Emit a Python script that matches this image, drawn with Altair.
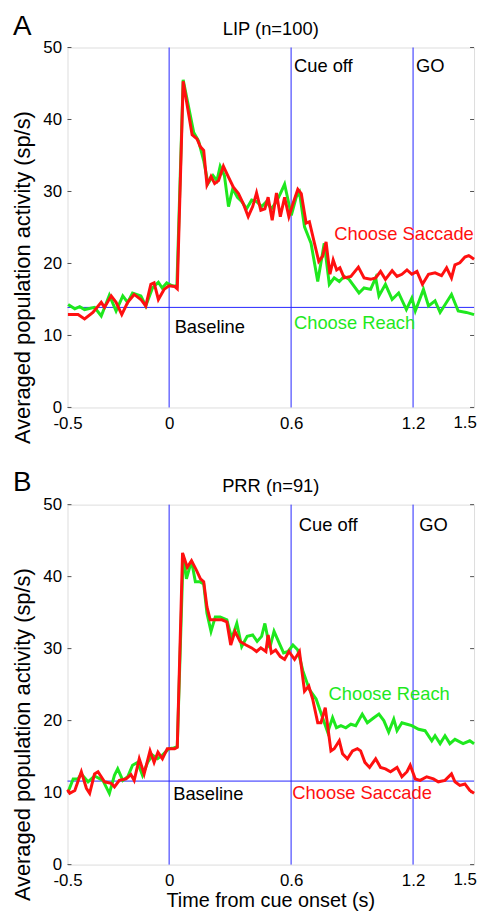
import altair as alt
import pandas as pd

# ---------------- data ----------------
X_TICKS = [-0.5, 0, 0.6, 1.2]
X_EDGE_TICK = [1.5]
Y_TICKS = [0, 10, 20, 30, 40, 50]
EVENT_TIMES = [0.0, 0.6, 1.2]

LIP_BASELINE = 13.9
PRR_BASELINE = 11.6

# (time s, rate sp/s)
lip_reach = [
    (-0.497, 14.3), (-0.464, 13.7), (-0.440, 14.0), (-0.416, 13.6), (-0.367, 13.9),
    (-0.334, 12.7), (-0.294, 15.6), (-0.261, 13.4), (-0.228, 15.5), (-0.204, 14.6),
    (-0.180, 15.9), (-0.139, 15.5), (-0.115, 14.1), (-0.082, 16.6), (-0.053, 17.4),
    (-0.034, 16.6), (-0.012, 17.3), (0.015, 16.9), (0.038, 16.8), (0.069, 45.5),
    (0.121, 38.2), (0.145, 37.0), (0.170, 34.3), (0.191, 31.1), (0.216, 32.2),
    (0.235, 31.5), (0.251, 33.5), (0.272, 32.2), (0.292, 27.9), (0.313, 30.4),
    (0.336, 29.2), (0.357, 28.6), (0.381, 27.6), (0.406, 28.8), (0.430, 28.6),
    (0.455, 27.9), (0.479, 28.6), (0.503, 27.6), (0.528, 28.6), (0.547, 29.7),
    (0.568, 31.0), (0.589, 28.3), (0.601, 26.7), (0.625, 29.2), (0.641, 29.9),
    (0.666, 25.1), (0.698, 22.8), (0.731, 17.5), (0.763, 22.8), (0.788, 17.1),
    (0.812, 18.0), (0.837, 17.5), (0.861, 18.2), (0.885, 17.8), (0.934, 15.9),
    (0.959, 16.6), (0.991, 16.4), (1.016, 18.0), (1.032, 15.5), (1.064, 17.1),
    (1.097, 15.0), (1.129, 15.9), (1.167, 13.6), (1.194, 15.2), (1.211, 13.4),
    (1.251, 16.4), (1.276, 14.1), (1.308, 14.8), (1.333, 13.2), (1.389, 15.7),
    (1.422, 13.4), (1.462, 13.2), (1.500, 12.9),
]
lip_saccade = [
    (-0.498, 12.9), (-0.448, 12.9), (-0.416, 12.3), (-0.375, 13.2), (-0.334, 14.6),
    (-0.318, 13.9), (-0.285, 15.5), (-0.261, 14.6), (-0.233, 12.9), (-0.204, 14.6),
    (-0.172, 15.7), (-0.139, 15.0), (-0.115, 14.1), (-0.090, 17.1), (-0.074, 17.3),
    (-0.053, 15.0), (-0.025, 16.4), (-0.001, 16.9), (0.028, 16.8), (0.040, 16.5),
    (0.069, 45.3), (0.113, 37.9), (0.137, 37.3), (0.154, 36.2), (0.170, 35.7),
    (0.186, 30.9), (0.206, 32.1), (0.224, 31.1), (0.243, 31.5), (0.267, 33.5),
    (0.292, 32.0), (0.316, 30.6), (0.341, 29.7), (0.365, 28.3), (0.389, 26.5),
    (0.411, 27.9), (0.430, 29.8), (0.451, 27.4), (0.471, 27.6), (0.487, 29.2),
    (0.507, 26.0), (0.528, 29.8), (0.547, 26.5), (0.568, 29.2), (0.589, 26.5),
    (0.609, 28.3), (0.633, 30.3), (0.650, 29.7), (0.674, 25.6), (0.690, 25.8),
    (0.715, 22.8), (0.736, 20.3), (0.755, 21.0), (0.772, 23.0), (0.791, 18.5),
    (0.807, 20.5), (0.824, 19.1), (0.840, 19.4), (0.861, 18.0), (0.894, 18.2),
    (0.931, 19.5), (0.959, 18.0), (0.991, 17.8), (1.016, 18.0), (1.040, 18.9),
    (1.064, 17.8), (1.097, 19.0), (1.121, 18.2), (1.145, 18.5), (1.170, 19.1),
    (1.194, 18.5), (1.219, 18.9), (1.246, 17.1), (1.276, 18.5), (1.308, 18.7),
    (1.340, 18.3), (1.365, 19.4), (1.389, 18.0), (1.406, 19.8), (1.430, 20.1),
    (1.455, 20.9), (1.474, 21.1), (1.500, 20.6),
]
prr_reach = [
    (-0.497, 10.1), (-0.472, 11.9), (-0.448, 11.9), (-0.432, 12.6), (-0.399, 11.5),
    (-0.367, 12.3), (-0.326, 11.7), (-0.294, 9.9), (-0.269, 12.4), (-0.253, 13.3),
    (-0.228, 11.7), (-0.204, 12.2), (-0.180, 13.8), (-0.155, 14.2), (-0.131, 12.4),
    (-0.106, 14.2), (-0.082, 15.2), (-0.057, 14.7), (-0.033, 15.2), (-0.001, 16.1),
    (0.023, 16.2), (0.040, 16.4), (0.069, 43.0), (0.085, 39.7), (0.110, 42.2),
    (0.129, 39.3), (0.150, 39.3), (0.170, 39.0), (0.186, 34.9), (0.206, 32.4),
    (0.227, 34.4), (0.251, 34.4), (0.284, 34.0), (0.308, 31.4), (0.333, 33.5),
    (0.357, 30.3), (0.384, 31.7), (0.411, 31.9), (0.433, 31.0), (0.455, 31.7),
    (0.471, 33.5), (0.495, 30.1), (0.516, 32.4), (0.541, 30.8), (0.563, 29.4),
    (0.585, 29.6), (0.609, 30.5), (0.633, 29.8), (0.658, 26.9), (0.690, 24.3),
    (0.723, 23.0), (0.755, 20.4), (0.780, 18.4), (0.804, 20.4), (0.823, 19.0),
    (0.845, 19.3), (0.869, 19.0), (0.894, 19.5), (0.918, 19.3), (0.950, 20.9),
    (0.975, 19.7), (1.007, 20.4), (1.032, 20.9), (1.056, 20.0), (1.080, 18.4),
    (1.105, 20.2), (1.121, 18.6), (1.145, 19.7), (1.170, 19.5), (1.194, 19.3),
    (1.227, 18.8), (1.259, 18.6), (1.292, 17.2), (1.308, 17.9), (1.333, 16.8),
    (1.357, 17.9), (1.381, 16.8), (1.406, 17.4), (1.446, 16.8), (1.479, 17.2),
    (1.500, 16.8),
]
prr_saccade = [
    (-0.500, 10.4), (-0.489, 9.9), (-0.464, 10.3), (-0.432, 12.9), (-0.407, 10.6),
    (-0.391, 9.9), (-0.367, 12.6), (-0.350, 12.9), (-0.334, 12.2), (-0.318, 11.5),
    (-0.285, 11.3), (-0.269, 10.8), (-0.245, 11.7), (-0.212, 11.9), (-0.188, 12.5),
    (-0.172, 11.7), (-0.147, 14.7), (-0.123, 12.6), (-0.094, 15.8), (-0.074, 14.2),
    (-0.055, 15.6), (-0.033, 14.7), (-0.009, 16.1), (0.027, 16.1), (0.040, 16.3),
    (0.066, 43.3), (0.089, 41.3), (0.110, 42.2), (0.134, 40.9), (0.154, 39.7),
    (0.170, 39.3), (0.186, 35.8), (0.202, 34.0), (0.227, 34.0), (0.260, 34.0),
    (0.284, 33.7), (0.303, 30.5), (0.324, 32.4), (0.349, 31.0), (0.378, 30.5),
    (0.406, 30.1), (0.430, 29.6), (0.451, 30.1), (0.476, 29.6), (0.487, 31.9),
    (0.503, 29.4), (0.524, 29.8), (0.547, 28.9), (0.568, 28.5), (0.589, 29.6),
    (0.617, 28.5), (0.641, 29.6), (0.666, 24.1), (0.687, 24.8), (0.706, 23.0),
    (0.731, 19.7), (0.747, 19.7), (0.768, 21.8), (0.796, 15.8), (0.812, 16.1),
    (0.837, 17.2), (0.853, 15.4), (0.877, 14.7), (0.902, 15.8), (0.926, 16.1),
    (0.942, 15.8), (0.963, 14.2), (0.986, 13.5), (1.016, 14.7), (1.040, 13.5),
    (1.064, 13.3), (1.089, 12.9), (1.121, 13.5), (1.145, 12.2), (1.170, 12.9),
    (1.186, 13.8), (1.211, 11.9), (1.235, 11.7), (1.267, 12.2), (1.300, 11.9),
    (1.324, 11.5), (1.357, 11.7), (1.389, 12.6), (1.406, 11.5), (1.430, 11.0),
    (1.455, 11.2), (1.479, 10.3), (1.500, 9.9),
]

GREEN = "#1ee81e"
RED = "#ff1010"
BLUE = "#2424ff"
BOX = "#505050"
FONT = "Liberation Sans"

# annotation texts: (text, time, rate, colour)
lip_notes = [
    ("Cue off", 0.614, 46.6, "black"),
    ("GO", 1.214, 46.6, "black"),
    ("Choose Saccade", 0.812, 23.2, RED),
    ("Choose Reach", 0.614, 10.9, GREEN),
    ("Baseline", 0.027, 10.4, "black"),
]
prr_notes = [
    ("Cue off", 0.638, 46.4, "black"),
    ("GO", 1.230, 46.4, "black"),
    ("Choose Reach", 0.784, 22.9, GREEN),
    ("Choose Saccade", 0.606, 9.1, RED),
    ("Baseline", 0.020, 8.95, "black"),
]

W, H = 410, 363

XS = alt.Scale(domain=[-0.5, 1.5], nice=False, zero=False)
YS = alt.Scale(domain=[0, 50], nice=False, zero=False)
XAX = alt.Axis(values=X_TICKS, title=None, ticks=False, domain=False, grid=False,
               labelFlush=False, labelPadding=8, labelFontSize=17, labelColor="black",
               labelFont=FONT,
               labelExpr="datum.value == -0.5 ? '-0.5' : format(datum.value, '~g')")
YAX = alt.Axis(values=Y_TICKS, title=None, ticks=False, domain=False, grid=False,
               labelFlush=False, labelPadding=6, labelFontSize=17, labelColor="black",
               labelFont=FONT)


def X(f="t"):
    return alt.X(f"{f}:Q", scale=XS, axis=XAX)


def Y(f="v"):
    return alt.Y(f"{f}:Q", scale=YS, axis=YAX)


one = pd.DataFrame({"k": [0]})


def panel(letter, title, reach, saccade, baseline, notes, letter_y, xtitle):
    reach_df = pd.DataFrame(reach, columns=["t", "v"])
    sacc_df = pd.DataFrame(saccade, columns=["t", "v"])
    ev_df = pd.DataFrame({"t": EVENT_TIMES})
    base_df = pd.DataFrame({"v": [baseline]})
    ytick_df = pd.DataFrame({"v": Y_TICKS})
    notes_df = pd.DataFrame(notes, columns=["text", "t", "v", "color"])
    edge_df = pd.DataFrame({"t": X_EDGE_TICK, "label": ["1.5"]})

    ev = alt.Chart(ev_df).mark_rule(color=BLUE, strokeWidth=1).encode(x=X())
    base = alt.Chart(base_df).mark_rule(color=BLUE, strokeWidth=1).encode(y=Y())
    lt = alt.Chart(ytick_df).mark_rule(color=BOX, strokeWidth=1).encode(
        y=Y(), x=alt.value(0), x2=alt.value(4))
    rt = alt.Chart(ytick_df).mark_rule(color=BOX, strokeWidth=1).encode(
        y=Y(), x=alt.value(W - 4), x2=alt.value(W))
    g = alt.Chart(reach_df).mark_line(color=GREEN, strokeWidth=3).encode(x=X(), y=Y())
    r = alt.Chart(sacc_df).mark_line(color=RED, strokeWidth=3).encode(x=X(), y=Y())
    txt = alt.Chart(notes_df).mark_text(align="left", baseline="alphabetic",
                                        fontSize=18.5, font=FONT).encode(
        x=X(), y=Y(), text="text:N", color=alt.Color("color:N", scale=None))
    edge = alt.Chart(edge_df).mark_text(align="center", baseline="top", dx=-9,
                                        fontSize=17, font=FONT, color="black").encode(
        x=X(), y=alt.value(H + 8), text="label:N")
    let = alt.Chart(one).mark_text(align="left", baseline="alphabetic", fontSize=28,
                                   font=FONT, color="black").encode(
        x=alt.value(-55), y=alt.value(letter_y), text=alt.value(letter))
    ttl = alt.Chart(one).mark_text(align="center", baseline="alphabetic", fontSize=18.5,
                                   font=FONT, color="black").encode(
        x=alt.value(W / 2), y=alt.value(-13), text=alt.value(title))
    ylab = alt.Chart(one).mark_text(align="center", baseline="alphabetic", fontSize=22,
                                    angle=270, font=FONT, color="black").encode(
        x=alt.value(-38), y=alt.value(232),
        text=alt.value("Averaged population activity (sp/s)"))
    layers = [ev, base, lt, rt, g, r, txt, edge, let, ttl, ylab]
    if xtitle:
        xt = alt.Chart(one).mark_text(align="center", baseline="alphabetic", fontSize=20,
                                      font=FONT, color="black").encode(
            x=alt.value(W / 2), y=alt.value(406), text=alt.value("Time from cue onset (s)"))
        layers.append(xt)
    return alt.layer(*layers).properties(width=W, height=H)


pa = panel("A", "LIP (n=100)", lip_reach, lip_saccade, LIP_BASELINE, lip_notes, -13, False)
pb = panel("B", "PRR (n=91)", prr_reach, prr_saccade, PRR_BASELINE, prr_notes, -14, True)

chart = (
    alt.vconcat(pa, pb, spacing=98, bounds="flush")
    .properties(padding={"left": 3, "top": 0, "right": 0, "bottom": 0})
    .configure_view(stroke=BOX, strokeWidth=1)
    .configure(background="white")
)

chart.save("out.html", embed_options={"renderer": "svg", "actions": False})
